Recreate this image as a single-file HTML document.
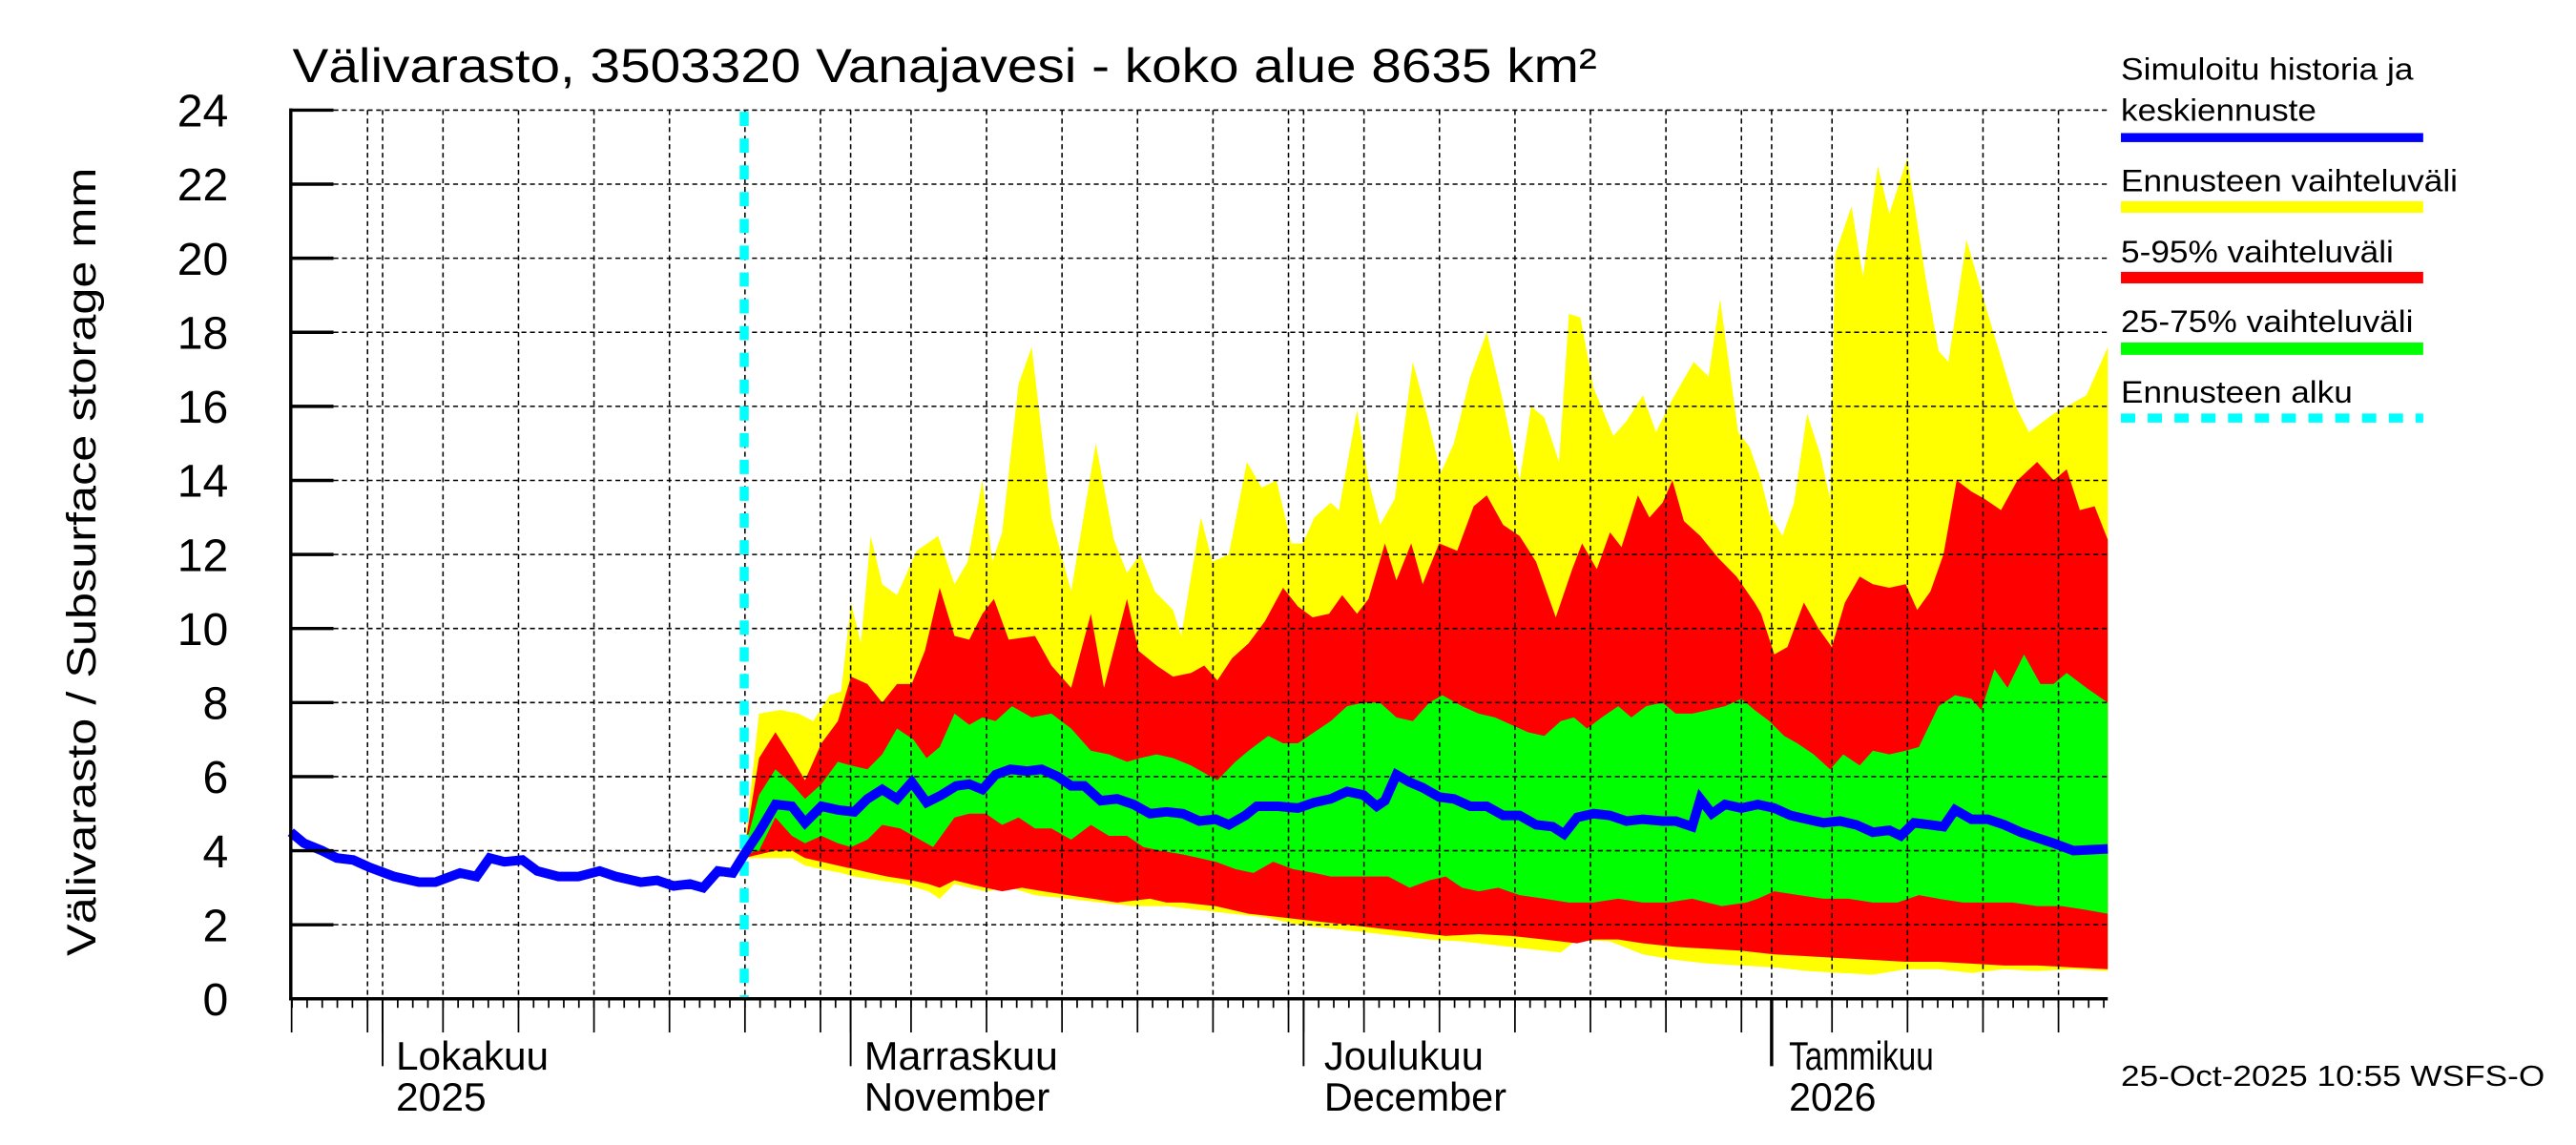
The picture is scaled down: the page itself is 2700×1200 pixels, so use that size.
<!DOCTYPE html>
<html><head><meta charset="utf-8"><style>html,body{margin:0;padding:0;background:#fff}svg{display:block}</style></head>
<body>
<svg id="s" xmlns="http://www.w3.org/2000/svg" width="2700" height="1200" viewBox="0 0 1568 697" preserveAspectRatio="none" font-family="Liberation Sans, Arial, sans-serif">
<rect x="0" y="0" width="1568" height="697" fill="#fff"/>
<g id="bands"></g>
<g id="grid"></g>
<g id="fg"></g>
<text x="178" y="50" font-size="29" textLength="794" lengthAdjust="spacingAndGlyphs">Välivarasto, 3503320 Vanajavesi - koko alue 8635 km²</text>
<text transform="translate(58,342) rotate(-90)" text-anchor="middle" font-size="25" textLength="480" lengthAdjust="spacingAndGlyphs">Välivarasto / Subsurface storage  mm</text>
<g font-size="24">
<text x="241" y="651" textLength="93" lengthAdjust="spacingAndGlyphs">Lokakuu</text>
<text x="241" y="676" textLength="55" lengthAdjust="spacingAndGlyphs">2025</text>
<text x="526" y="651" textLength="118" lengthAdjust="spacingAndGlyphs">Marraskuu</text>
<text x="526" y="676" textLength="113" lengthAdjust="spacingAndGlyphs">November</text>
<text x="806" y="651" textLength="97" lengthAdjust="spacingAndGlyphs">Joulukuu</text>
<text x="806" y="676" textLength="111" lengthAdjust="spacingAndGlyphs">December</text>
<text x="1089" y="651" textLength="88" lengthAdjust="spacingAndGlyphs">Tammikuu</text>
<text x="1089" y="676" textLength="53" lengthAdjust="spacingAndGlyphs">2026</text>
</g>
<text x="1291" y="661" font-size="17.5" textLength="258" lengthAdjust="spacingAndGlyphs">25-Oct-2025 10:55 WSFS-O</text>
<g font-size="19">
<text x="1291" y="48.4" textLength="178" lengthAdjust="spacingAndGlyphs">Simuloitu historia ja</text>
<text x="1291" y="73.6" textLength="119" lengthAdjust="spacingAndGlyphs">keskiennuste</text>
<rect x="1291" y="81" width="184" height="5.5" fill="#0000ff"/>
<text x="1291" y="116.5" textLength="205" lengthAdjust="spacingAndGlyphs">Ennusteen vaihteluväli</text>
<rect x="1291" y="122.5" width="184" height="7" fill="#ffff00"/>
<text x="1291" y="159.7" textLength="166" lengthAdjust="spacingAndGlyphs">5-95% vaihteluväli</text>
<rect x="1291" y="165.5" width="184" height="7" fill="#ff0000"/>
<text x="1291" y="202" textLength="178" lengthAdjust="spacingAndGlyphs">25-75% vaihteluväli</text>
<rect x="1291" y="208.5" width="184" height="7.5" fill="#00ff00"/>
<text x="1291" y="245" textLength="141" lengthAdjust="spacingAndGlyphs">Ennusteen alku</text>
<line x1="1291" y1="254.5" x2="1475" y2="254.5" stroke="#00ffff" stroke-width="5.5" stroke-dasharray="8.7 7.6"/>
</g>
</svg>
<script>
(function(){
var NS="http://www.w3.org/2000/svg";
function Y(v){return 608-v*22.54;}
function el(p,tag,a){var e=document.createElementNS(NS,tag);for(var k in a)e.setAttribute(k,a[k]);p.appendChild(e);return e;}
function pts(a){var r=[];for(var i=0;i<a.length;i+=2)r.push([a[i],Y(a[i+1])]);return r;}
function band(top,bot,col){
 var t=pts(top),b=pts(bot).reverse();
 var d="M"+t.map(function(p){return p[0].toFixed(1)+","+p[1].toFixed(1)}).join("L")+"L"+b.map(function(p){return p[0].toFixed(1)+","+p[1].toFixed(1)}).join("L")+"Z";
 el(document.getElementById("bands"),"path",{d:d,fill:col});
}
var yTop=[453,4.0,462,7.7,475,7.8,486,7.7,495,7.5,505,8.2,512,8.3,518,10.7,524,9.6,530,12.5,537,11.2,546,10.9,558,12.1,571,12.5,581,11.2,589,11.8,598,14.0,604,11.8,610,12.6,620,16.6,628,17.6,640,13.0,652,11.0,667,15.0,678,12.4,686,11.5,694,12.0,703,11.0,714,10.5,719,9.8,731,13.0,738,11.8,748,12.0,759,14.5,768,13.8,777,14.0,786,12.3,793,12.3,800,13.0,810,13.4,815,13.2,826,15.9,833,14.0,840,12.8,849,13.5,860,17.2,869,15.7,877,14.2,885,15.0,895,16.8,905,18.0,914,16.3,925,14.0,932,16.0,940,15.7,949,14.5,955,18.5,962,18.4,970,16.5,982,15.2,990,15.6,1000,16.3,1008,15.3,1018,16.2,1031,17.2,1040,16.8,1047,18.9,1058,15.3,1065,14.9,1072,14.0,1077,13.1,1085,12.5,1092,13.4,1100,15.8,1108,14.7,1114,13.5,1117,20.1,1127,21.4,1134,19.5,1143,22.5,1150,21.2,1161,22.7,1172,19.5,1180,17.5,1186,17.2,1197,20.5,1210,18.5,1227,16.0,1235,15.3,1250,15.8,1270,16.3,1283,17.6];
var rTop=[453,4.0,462,6.5,472,7.2,482,6.5,490,5.9,500,6.9,510,7.5,518,8.7,528,8.5,537,8.0,546,8.5,555,8.5,563,9.4,572,11.1,581,9.8,590,9.7,598,10.4,605,10.8,614,9.7,630,9.8,640,9.0,652,8.4,664,10.4,672,8.4,686,10.8,693,9.4,704,9.0,714,8.7,725,8.8,733,9.0,741,8.6,750,9.2,760,9.6,770,10.2,781,11.1,790,10.6,799,10.3,809,10.4,817,10.9,826,10.4,833,10.8,843,12.3,850,11.3,859,12.3,866,11.2,876,12.3,887,12.1,897,13.3,905,13.6,915,12.8,925,12.5,935,11.8,947,10.3,957,11.6,963,12.3,972,11.6,980,12.6,987,12.2,997,13.6,1004,13.0,1012,13.4,1018,14.0,1025,12.9,1035,12.5,1046,11.9,1057,11.4,1068,10.7,1072,10.4,1080,9.3,1088,9.5,1098,10.7,1107,10.0,1115,9.5,1123,10.7,1132,11.4,1140,11.2,1150,11.1,1160,11.2,1167,10.5,1175,11.0,1183,12.0,1191,14.0,1200,13.7,1208,13.5,1218,13.2,1228,14.0,1240,14.5,1250,14.0,1258,14.3,1266,13.2,1275,13.3,1283,12.4];
var gTop=[453,4,462,5.5,472,6.2,482,5.8,490,5.4,500,5.8,510,6.4,518,6.3,528,6.2,537,6.6,546,7.3,556,7.0,564,6.5,572,6.8,581,7.7,590,7.4,598,7.6,606,7.5,616,7.9,628,7.6,640,7.7,652,7.3,664,6.7,675,6.6,686,6.4,694,6.5,704,6.6,714,6.5,725,6.3,733,6.1,741,5.9,752,6.4,760,6.7,772,7.1,781,6.9,790,6.9,800,7.2,810,7.5,820,7.9,830,8.0,840,8.0,850,7.6,860,7.5,870,8.0,878,8.2,890,7.9,900,7.7,910,7.6,920,7.4,930,7.2,940,7.1,950,7.5,958,7.6,966,7.3,975,7.6,985,7.9,993,7.6,1002,7.9,1012,8.0,1020,7.7,1030,7.7,1040,7.8,1050,7.9,1060,8.1,1068,7.8,1077,7.5,1086,7.1,1094,6.9,1104,6.6,1114,6.2,1122,6.6,1132,6.3,1140,6.7,1150,6.6,1160,6.7,1168,6.8,1180,7.9,1190,8.2,1200,8.1,1206,7.8,1214,8.9,1222,8.4,1232,9.3,1242,8.5,1250,8.5,1258,8.8,1270,8.4,1283,8.0];
var gBot=[453,3.9,462,4.0,472,4.9,482,4.4,490,4.2,500,4.4,510,4.2,518,4.1,528,4.3,537,4.7,548,4.6,560,4.3,568,4.1,581,4.9,590,5.0,600,5.0,610,4.7,620,4.9,630,4.6,640,4.6,652,4.3,664,4.7,675,4.4,686,4.4,696,4.1,706,4.0,720,3.9,730,3.8,740,3.7,752,3.5,763,3.4,775,3.7,787,3.5,800,3.4,810,3.3,825,3.3,835,3.3,845,3.3,858,3.0,870,3.2,880,3.3,890,3.0,900,2.9,912,3.0,925,2.8,940,2.7,955,2.6,970,2.6,985,2.7,1000,2.6,1015,2.6,1030,2.7,1048,2.5,1063,2.6,1070,2.7,1080,2.9,1095,2.8,1110,2.7,1125,2.7,1140,2.6,1155,2.6,1168,2.8,1180,2.7,1195,2.6,1210,2.6,1225,2.6,1240,2.5,1255,2.5,1270,2.4,1283,2.3];
var rBot=[453,3.8,462,3.9,472,4.0,482,4.0,490,3.8,500,3.7,510,3.6,520,3.5,530,3.4,540,3.3,555,3.2,565,3.1,572,3.0,581,3.2,590,3.1,600,3.0,610,2.9,622,3.0,635,2.9,650,2.8,665,2.7,680,2.6,700,2.7,710,2.6,720,2.6,740,2.5,760,2.3,780,2.2,800,2.1,820,2.0,840,1.9,860,1.8,880,1.7,900,1.75,920,1.7,940,1.6,960,1.5,970,1.6,985,1.6,1000,1.5,1020,1.4,1040,1.35,1060,1.3,1080,1.2,1100,1.15,1120,1.1,1140,1.05,1160,1.0,1180,1.0,1200,0.95,1220,0.9,1240,0.9,1260,0.85,1283,0.8];
var yBot=[453,3.8,462,3.8,472,3.8,482,3.8,490,3.6,500,3.5,512,3.4,520,3.3,535,3.2,550,3.1,565,2.9,572,2.7,581,3.1,590,3.0,600,2.9,615,3.0,630,2.8,650,2.7,670,2.6,690,2.5,710,2.5,730,2.4,750,2.3,770,2.2,790,2.0,810,1.9,830,1.8,850,1.7,870,1.6,890,1.55,910,1.45,930,1.35,950,1.25,960,1.6,980,1.55,1000,1.2,1020,1.05,1040,0.95,1060,0.9,1080,0.85,1100,0.75,1120,0.7,1140,0.65,1160,0.8,1180,0.8,1200,0.7,1220,0.8,1240,0.75,1260,0.8,1283,0.75];
band(yTop,yBot,"#ffff00");
band(rTop,rBot,"#ff0000");
band(gTop,gBot,"#00ff00");
var G=document.getElementById("grid");
for(var v=2;v<=24;v+=2){el(G,"line",{x1:177,x2:1283,y1:Y(v),y2:Y(v),stroke:"#000","stroke-width":0.9,"stroke-dasharray":"3 2.2"});}
function X(day){return 232.9+day*9.19;} // day 0 = Oct 1
// days: Sep25 = -6 ... Jan23
var months=[[0,31],[31,30],[61,31],[92,31]];
var vlines=[-1];
months.forEach(function(m){vlines.push(m[0]);[4,9,14,19,24,29].forEach(function(k){if(k<m[1]&&m[0]+k<=114)vlines.push(m[0]+k);});});
vlines.forEach(function(d){var x=X(d);if(x>178&&x<1282)el(G,"line",{x1:x,x2:x,y1:67,y2:608,stroke:"#000","stroke-width":0.9,"stroke-dasharray":"3 2.2"});});
var F=document.getElementById("fg");
// ticks below axis
for(var d=-6;d<=114;d++){var x=X(d);if(x>1284)break;el(F,"line",{x1:x,x2:x,y1:608,y2:613.5,stroke:"#000","stroke-width":1});}
vlines.forEach(function(d){var x=X(d);el(F,"line",{x1:x,x2:x,y1:608,y2:628.5,stroke:"#000","stroke-width":1});});
el(F,"line",{x1:177.5,x2:177.5,y1:608,y2:628.5,stroke:"#000","stroke-width":1});
[0,31,61].forEach(function(d){var x=X(d);el(F,"line",{x1:x,x2:x,y1:608,y2:649,stroke:"#000","stroke-width":1.1});});
el(F,"line",{x1:X(92),x2:X(92),y1:608,y2:649,stroke:"#000","stroke-width":2});
// cyan
el(F,"line",{x1:453,x2:453,y1:68,y2:608,stroke:"#00ffff","stroke-width":5.5,"stroke-dasharray":"8.7 7.6"});
// blue
var b=[177,4.5,185,4.2,196,4.0,205,3.8,215,3.75,225,3.55,240,3.3,255,3.15,265,3.15,280,3.4,290,3.3,298,3.8,307,3.7,318,3.75,327,3.45,340,3.3,352,3.3,365,3.45,375,3.3,390,3.15,400,3.2,410,3.05,420,3.1,428,3.0,437,3.45,446,3.4,453,3.9,462,4.5,472,5.25,482,5.2,490,4.75,500,5.2,510,5.1,520,5.05,528,5.4,537,5.65,546,5.4,555,5.85,564,5.3,573,5.5,582,5.75,590,5.8,598,5.65,606,6.05,615,6.2,625,6.15,634,6.2,644,6.0,652,5.75,660,5.75,670,5.35,680,5.4,690,5.25,700,5.0,710,5.05,720,5.0,730,4.8,740,4.85,748,4.7,758,4.95,765,5.2,778,5.2,790,5.15,800,5.3,810,5.4,820,5.6,830,5.5,838,5.2,843,5.35,850,6.05,858,5.85,866,5.7,876,5.45,885,5.4,895,5.2,905,5.2,915,4.95,925,4.95,935,4.7,945,4.65,952,4.45,960,4.9,970,5.0,980,4.95,990,4.8,1000,4.85,1012,4.8,1020,4.8,1030,4.65,1035,5.4,1042,5.0,1050,5.25,1060,5.15,1070,5.25,1080,5.15,1090,4.95,1100,4.85,1110,4.75,1120,4.8,1130,4.7,1140,4.5,1150,4.55,1157,4.4,1165,4.75,1175,4.7,1183,4.65,1190,5.1,1200,4.85,1210,4.85,1220,4.7,1230,4.5,1240,4.35,1250,4.2,1262,4.0,1283,4.05];
var p=pts(b);
el(F,"polyline",{points:p.map(function(q){return q[0]+","+q[1].toFixed(1)}).join(" "),fill:"none",stroke:"#0000ff","stroke-width":5.8,"stroke-linejoin":"miter"});
// axes
el(F,"line",{x1:177,x2:177,y1:66,y2:609,stroke:"#000","stroke-width":2});
el(F,"line",{x1:176,x2:1283,y1:608,y2:608,stroke:"#000","stroke-width":2});
for(var v=0;v<=24;v+=2){el(F,"line",{x1:177,x2:203,y1:Y(v),y2:Y(v),stroke:"#000","stroke-width":2});
 var t=el(F,"text",{x:139,y:Y(v)+10,"text-anchor":"end","font-size":28});t.textContent=String(v);}
})();
</script>
</body></html>
